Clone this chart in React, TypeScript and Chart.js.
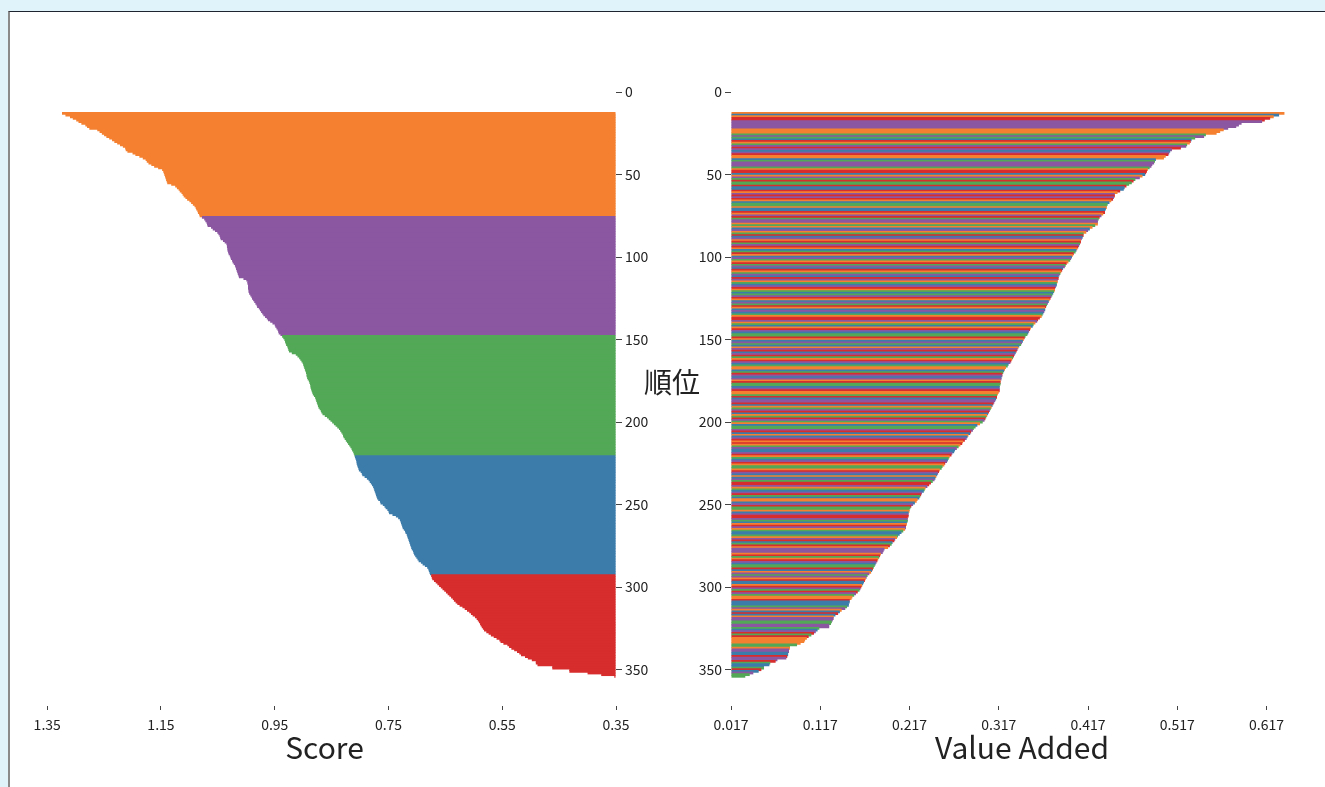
import React, { useEffect, useRef } from "react";
import { Chart, registerables } from "chart.js";

Chart.register(...registerables);

const FONT = "'Noto Sans CJK JP', 'Noto Sans', sans-serif";

// first rank that holds a bar (ranks run consecutively from here)
const FIRST_RANK = 13;

// Score, sorted descending (ranks 13..354)
const SCORE = [
  1.324, 1.318, 1.31, 1.305, 1.299, 1.295, 1.29, 1.283, 1.28, 1.276,
  1.262, 1.258, 1.254, 1.25, 1.246, 1.241, 1.236, 1.232, 1.227, 1.222,
  1.217, 1.213, 1.212, 1.209, 1.2, 1.195, 1.188, 1.182, 1.177, 1.175,
  1.172, 1.167, 1.162, 1.155, 1.148, 1.146, 1.145, 1.144, 1.143, 1.142,
  1.141, 1.14, 1.139, 1.132, 1.125, 1.122, 1.119, 1.117, 1.114, 1.112,
  1.11, 1.107, 1.104, 1.1, 1.097, 1.094, 1.091, 1.089, 1.088, 1.086, 1.085, 1.083, 1.082,
  1.078, 1.074, 1.072, 1.07, 1.069, 1.068, 1.062, 1.059, 1.055, 1.051,
  1.049, 1.047, 1.046, 1.045, 1.041, 1.038, 1.035, 1.034, 1.034, 1.033,
  1.033, 1.032, 1.031, 1.029, 1.028, 1.027, 1.025, 1.024, 1.022, 1.02,
  1.019, 1.018, 1.017, 1.016, 1.015, 1.014, 1.013, 1.005, 1.0, 0.998,
  0.998, 0.997, 0.997, 0.997, 0.996, 0.996, 0.995, 0.993, 0.991, 0.99,
  0.988, 0.986, 0.984, 0.982, 0.981, 0.978, 0.976, 0.974, 0.972, 0.97,
  0.967, 0.964, 0.962, 0.958, 0.954, 0.95, 0.949, 0.947, 0.945, 0.944, 0.943, 0.94,
  0.937, 0.935, 0.933, 0.932, 0.931, 0.93, 0.928, 0.927, 0.926, 0.925,
  0.92, 0.913, 0.91, 0.907, 0.905, 0.903, 0.901, 0.9, 0.899, 0.898,
  0.897, 0.896, 0.895, 0.894, 0.894, 0.893, 0.892, 0.89, 0.889, 0.888,
  0.887, 0.887, 0.886, 0.885, 0.884, 0.883, 0.881, 0.879, 0.878, 0.877,
  0.876, 0.875, 0.874, 0.873, 0.871, 0.869, 0.868, 0.866, 0.862, 0.858,
  0.855, 0.852, 0.849, 0.846, 0.843, 0.84, 0.837, 0.835, 0.833, 0.831,
  0.83, 0.829, 0.827, 0.825, 0.823, 0.821, 0.819, 0.817, 0.815, 0.814, 0.812, 0.811, 0.81,
  0.809, 0.808, 0.807, 0.806, 0.806, 0.805, 0.804, 0.803, 0.802, 0.799,
  0.797, 0.796, 0.792, 0.788, 0.785, 0.783, 0.781, 0.779, 0.777, 0.776,
  0.775, 0.774, 0.773, 0.772, 0.771, 0.77, 0.768, 0.765, 0.764, 0.76,
  0.757, 0.755, 0.752, 0.75, 0.749, 0.743, 0.737, 0.733, 0.73, 0.729,
  0.728, 0.727, 0.726, 0.725, 0.723, 0.721, 0.72, 0.718, 0.717, 0.716,
  0.715, 0.714, 0.713, 0.712, 0.711, 0.71, 0.709, 0.707, 0.706, 0.705,
  0.703, 0.701, 0.699, 0.697, 0.693, 0.69, 0.686, 0.682, 0.68, 0.679, 0.678, 0.677,
  0.675, 0.674, 0.673, 0.67, 0.667, 0.664, 0.661, 0.658, 0.655, 0.652,
  0.649, 0.646, 0.643, 0.64, 0.637, 0.635, 0.632, 0.629, 0.625, 0.62,
  0.616, 0.612, 0.608, 0.605, 0.602, 0.598, 0.595, 0.593, 0.591, 0.589,
  0.588, 0.586, 0.584, 0.582, 0.578, 0.574, 0.57, 0.565, 0.56, 0.555,
  0.553, 0.548, 0.541, 0.538, 0.534, 0.529, 0.524, 0.52, 0.517, 0.51,
  0.505, 0.498, 0.491, 0.491, 0.488, 0.462, 0.462, 0.432, 0.432, 0.4, 0.376, 0.353,
];

// number of bars in each score group (top to bottom)
const GROUP_SIZES = [63, 72, 73, 72, 62];
const GROUP_COLORS = ["#f48030", "#8b57a1", "#52a856", "#3c7cab", "#d72d2d"];

// Value Added, sorted descending (ranks 13..354)
const VALUE_ADDED = [
  0.637, 0.631, 0.625, 0.621, 0.615, 0.612, 0.589, 0.586, 0.583, 0.574,
  0.569, 0.565, 0.561, 0.549, 0.547, 0.537, 0.533, 0.532, 0.531, 0.528,
  0.527, 0.521, 0.511, 0.509, 0.508, 0.507, 0.504, 0.502, 0.493, 0.492,
  0.491, 0.489, 0.488, 0.486, 0.484, 0.483, 0.482, 0.481, 0.478, 0.475,
  0.47, 0.468, 0.466, 0.463, 0.46, 0.458, 0.457, 0.453, 0.45, 0.447,
  0.447, 0.446, 0.445, 0.443, 0.441, 0.439, 0.438, 0.438, 0.437, 0.436,
  0.436, 0.434, 0.432, 0.43, 0.429, 0.428, 0.428, 0.428, 0.425, 0.422,
  0.419, 0.417, 0.415, 0.412, 0.412, 0.411, 0.41, 0.409, 0.409, 0.408,
  0.407, 0.406, 0.405, 0.404, 0.403, 0.401, 0.4, 0.399, 0.398, 0.397,
  0.395, 0.393, 0.392, 0.391, 0.389, 0.388, 0.387, 0.386, 0.385, 0.384,
  0.384, 0.383, 0.383, 0.382, 0.382, 0.381, 0.38, 0.38, 0.379, 0.378,
  0.377, 0.376, 0.375, 0.374, 0.373, 0.372, 0.371, 0.37, 0.369, 0.369,
  0.368, 0.367, 0.366, 0.365, 0.363, 0.361, 0.36, 0.358, 0.356, 0.355,
  0.353, 0.352, 0.351, 0.35, 0.349, 0.347, 0.346, 0.345, 0.344, 0.343,
  0.342, 0.34, 0.339, 0.338, 0.337, 0.336, 0.335, 0.334, 0.333, 0.332,
  0.331, 0.33, 0.328, 0.327, 0.325, 0.324, 0.323, 0.322, 0.321, 0.321,
  0.32, 0.32, 0.319, 0.319, 0.319, 0.318, 0.318, 0.318, 0.318, 0.317,
  0.316, 0.315, 0.315, 0.314, 0.313, 0.312, 0.311, 0.31, 0.309, 0.308,
  0.307, 0.306, 0.305, 0.304, 0.303, 0.302, 0.301, 0.299, 0.296, 0.293,
  0.291, 0.289, 0.288, 0.286, 0.285, 0.283, 0.282, 0.281, 0.279, 0.277,
  0.276, 0.274, 0.272, 0.27, 0.268, 0.267, 0.265, 0.264, 0.262, 0.261,
  0.26, 0.259, 0.257, 0.256, 0.254, 0.253, 0.251, 0.25, 0.249, 0.248,
  0.247, 0.246, 0.245, 0.243, 0.241, 0.239, 0.237, 0.235, 0.234, 0.233,
  0.231, 0.23, 0.229, 0.228, 0.226, 0.225, 0.223, 0.221, 0.219, 0.218,
  0.217, 0.217, 0.216, 0.216, 0.216, 0.215, 0.215, 0.215, 0.214, 0.214,
  0.213, 0.213, 0.212, 0.21, 0.208, 0.206, 0.204, 0.203, 0.201, 0.2,
  0.198, 0.197, 0.195, 0.193, 0.189, 0.188, 0.187, 0.185, 0.184, 0.183,
  0.182, 0.181, 0.18, 0.179, 0.178, 0.177, 0.176, 0.175, 0.174, 0.172,
  0.17, 0.169, 0.168, 0.167, 0.166, 0.165, 0.164, 0.163, 0.162, 0.161,
  0.159, 0.157, 0.155, 0.153, 0.152, 0.15, 0.15, 0.149, 0.149, 0.147,
  0.145, 0.141, 0.139, 0.137, 0.134, 0.132, 0.132, 0.131, 0.13, 0.129,
  0.127, 0.127, 0.116, 0.114, 0.112, 0.11, 0.107, 0.104, 0.102, 0.1,
  0.099, 0.095, 0.091, 0.083, 0.083, 0.082, 0.082, 0.081, 0.081, 0.08,
  0.079, 0.069, 0.067, 0.061, 0.06, 0.054, 0.054, 0.051, 0.048, 0.042, 0.038, 0.033,
];

// score group (0..4) of each Value Added bar, top to bottom
const VA_GROUPS =
  "0304411111" + "0002123402" + "1413140032" + "1112044301" + "2422433401" +
  "4140322033" + "4014211020" + "3102431042" +
  "1403240312" + "0421340213" + "4102314023" + "2140312403" + "1320441023" +
  "0413224031" + "2301431420" + "4132003241" + "3104223140" + "0243114302" +
  "1430241203" + "2214303140" + "4021331402" + "3140220413" + "0312441023" +
  "1423003142" + "2031441230" + "4102332014" + "3240111042" + "0413224301" +
  "2104330412" + "4120" +
  "0433321034" + "3011221123" + "1424000022" + "0113341142" + "33243122";

const SCORE_TICKS = [1.35, 1.15, 0.95, 0.75, 0.55, 0.35];
const VA_TICKS = [0.017, 0.117, 0.217, 0.317, 0.417, 0.517, 0.617];
const RANK_TICKS = [0, 50, 100, 150, 200, 250, 300, 350];

const TEXT_COLOR = "#222222";
const TICK_COLOR = "#444444";

function scoreColors(): string[] {
  const out: string[] = [];
  GROUP_SIZES.forEach((n, g) => {
    for (let i = 0; i < n; i++) out.push(GROUP_COLORS[g]);
  });
  return out;
}

function rankAxis(position: "left" | "right", width: number) {
  return {
    type: "linear" as const,
    position,
    reverse: true,
    offset: false,
    min: 0,
    max: 372,
    afterBuildTicks: (s: any) => {
      s.ticks = RANK_TICKS.map((v) => ({ value: v }));
    },
    afterFit: (s: any) => {
      s.width = width;
    },
    grid: {
      display: true,
      offset: false,
      drawOnChartArea: false,
      drawTicks: true,
      tickLength: 6,
      color: TICK_COLOR,
      lineWidth: 1,
    },
    border: { display: false },
    ticks: { font: { size: 14, family: FONT }, color: TEXT_COLOR, padding: 3, autoSkip: false },
  };
}

function valueAxis(min: number, max: number, reverse: boolean, ticks: number[], digits: number, title: string) {
  return {
    type: "linear" as const,
    position: "bottom" as const,
    reverse,
    offset: false,
    min,
    max,
    afterBuildTicks: (s: any) => {
      s.ticks = ticks.map((v) => ({ value: v }));
    },
    afterFit: (s: any) => {
      s.height = 81;
    },
    grid: {
      display: true,
      offset: false,
      drawOnChartArea: false,
      drawTicks: true,
      tickLength: 4,
      color: TICK_COLOR,
      lineWidth: 1,
    },
    border: { display: false },
    ticks: {
      font: { size: 14, family: FONT },
      color: TEXT_COLOR,
      padding: 6,
      maxRotation: 0,
      autoSkip: false,
      callback: (v: any) => Number(v).toFixed(digits),
    },
    title: {
      display: true,
      text: title,
      font: { size: 30, family: FONT },
      color: TEXT_COLOR,
      padding: { top: 0, bottom: 21 },
    },
  };
}

function useChart(ref: React.RefObject<HTMLCanvasElement>, build: (c: HTMLCanvasElement) => Chart) {
  useEffect(() => {
    if (!ref.current) return;
    const chart = build(ref.current);
    return () => chart.destroy();
  }, []);
}

export default function App() {
  const leftRef = useRef<HTMLCanvasElement>(null);
  const rightRef = useRef<HTMLCanvasElement>(null);

  useChart(leftRef, (c) =>
    new Chart(c, {
      type: "bar",
      data: {
        datasets: [
          {
            data: SCORE.map((v, i) => ({ x: v, y: FIRST_RANK + i })),
            backgroundColor: scoreColors(),
            borderWidth: 0,
            barPercentage: 1.7,
            categoryPercentage: 1,
            base: 0.35,
          } as any,
        ],
      },
      options: {
        indexAxis: "y",
        responsive: false,
        animation: false,
        events: [],
        plugins: { legend: { display: false }, tooltip: { enabled: false } },
        layout: { padding: { left: 33, right: 0, top: 92, bottom: 0 } },
        scales: {
          x: valueAxis(0.35, 1.375, true, SCORE_TICKS, 2, "Score") as any,
          y: rankAxis("right", 49) as any,
        },
      },
    })
  );

  useChart(rightRef, (c) =>
    new Chart(c, {
      type: "bar",
      data: {
        datasets: [
          {
            data: VALUE_ADDED.map((v, i) => ({ x: v, y: FIRST_RANK + i })),
            backgroundColor: VALUE_ADDED.map((_, i) => GROUP_COLORS[Number(VA_GROUPS[i] || 0)]),
            borderWidth: 0,
            barPercentage: 1.7,
            categoryPercentage: 1,
            base: 0.017,
          } as any,
        ],
      },
      options: {
        indexAxis: "y",
        responsive: false,
        animation: false,
        events: [],
        plugins: { legend: { display: false }, tooltip: { enabled: false } },
        layout: { padding: { left: 0, right: 12, top: 92, bottom: 0 } },
        scales: {
          x: valueAxis(0.017, 0.669, false, VA_TICKS, 3, "Value Added") as any,
          y: rankAxis("left", 71) as any,
        },
      },
    })
  );

  return (
    <div style={{ position: "fixed", inset: 0, background: "#e0f3fa", overflow: "hidden", fontFamily: FONT }}>
      <div
        style={{
          position: "absolute",
          left: 8,
          top: 11,
          width: 1400,
          height: 900,
          background: "#ffffff",
          borderTop: "1px solid #1f2530",
          borderLeft: "2px solid #8a8a8a",
        }}
      />
      <canvas ref={leftRef} width={665} height={787} style={{ position: "absolute", left: 0, top: 0, width: 665, height: 787 }} />
      <canvas ref={rightRef} width={665} height={787} style={{ position: "absolute", left: 660, top: 0, width: 665, height: 787 }} />
      <div
        style={{
          position: "absolute",
          left: 622,
          top: 364,
          width: 100,
          textAlign: "center",
          fontSize: 28,
          lineHeight: "34px",
          color: TEXT_COLOR,
        }}
      >
        順位
      </div>
    </div>
  );
}
